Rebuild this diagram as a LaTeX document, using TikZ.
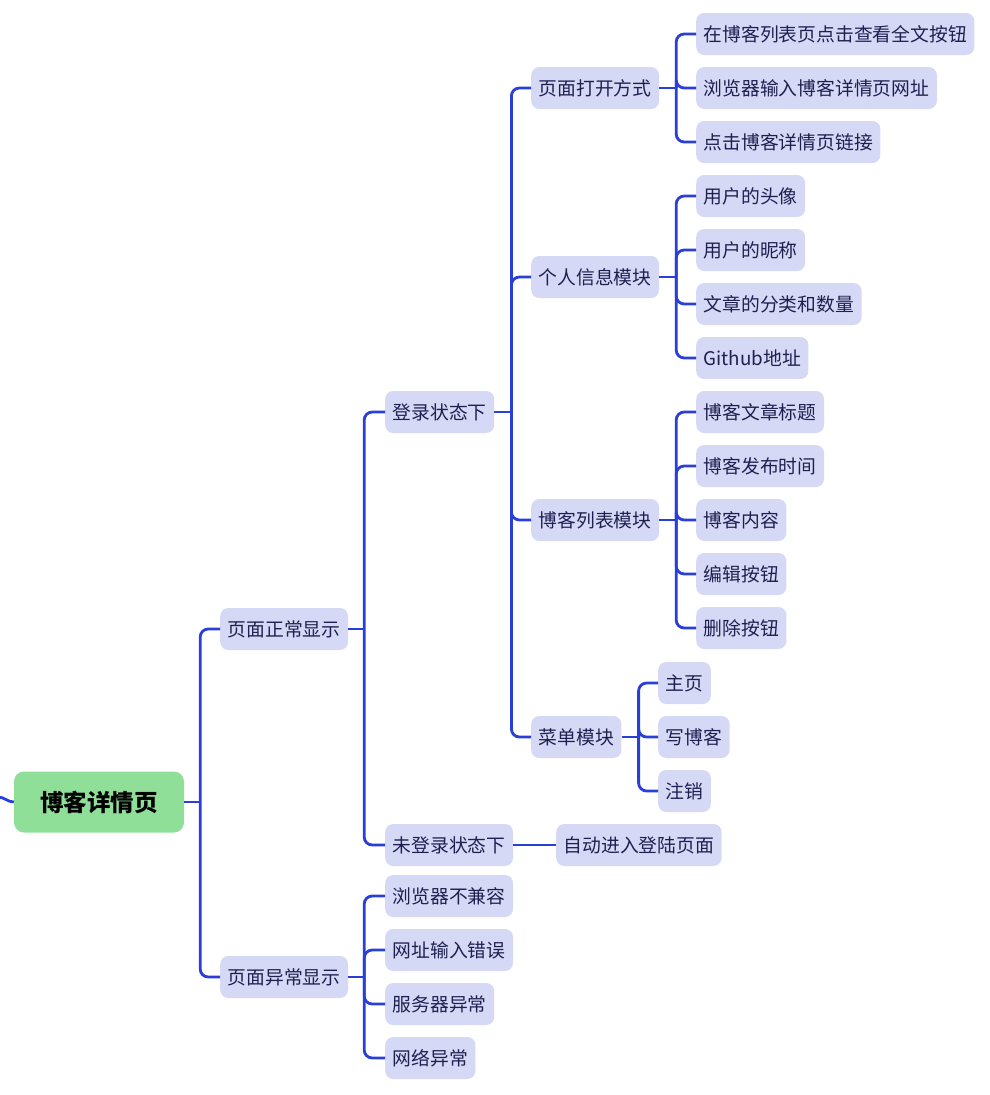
\documentclass[tikz,border=0pt]{standalone}
\usepackage{fontspec}
\setmainfont{Noto Sans CJK SC}
\usetikzlibrary{calc}
\definecolor{linec}{HTML}{2A3FD8}
\definecolor{boxc}{HTML}{D5D9F6}
\definecolor{txtc}{HTML}{1E2150}
\definecolor{rootc}{HTML}{90DF98}
\tikzset{
  topic/.style={anchor=west, fill=boxc, rounded corners=8pt, minimum height=42pt, inner xsep=7.5pt, inner ysep=0pt, text=txtc, font=\fontsize{18.8pt}{22pt}\selectfont},
  roottopic/.style={fill=rootc, rounded corners=10pt, minimum height=61pt, minimum width=170pt, inner xsep=0pt, text=black, font=\fontsize{23.5pt}{27pt}\selectfont\bfseries},
  conn/.style={draw=linec, line width=2.8pt, rounded corners=8pt},
}
\newcommand{\branch}[3]{%
  \draw[conn] (#1.east) -- ++(#2,0) coordinate (#1-j);
  \foreach \c in {#3} { \draw[conn] (#1-j) |- (\c.west); }
}
\begin{document}
\begin{tikzpicture}[x=1pt,y=-1pt]
\useasboundingbox (0,0) rectangle (990,1095);
\node[roottopic] (root) at (99,802) {博客详情页};
\node[topic] (n1) at (220,629) {页面正常显示};
\node[topic] (n2) at (220,977) {页面异常显示};
\node[topic] (d1) at (385,412) {登录状态下};
\node[topic] (d2) at (385,845) {未登录状态下};
\node[topic] (e1) at (385,896) {浏览器不兼容};
\node[topic] (e2) at (385,950) {网址输入错误};
\node[topic] (e3) at (385,1004) {服务器异常};
\node[topic] (e4) at (385,1058) {网络异常};
\node[topic] (m1) at (531,88) {页面打开方式};
\node[topic] (m2) at (531,277) {个人信息模块};
\node[topic] (m3) at (531,520) {博客列表模块};
\node[topic] (m4) at (531,737) {菜单模块};
\node[topic] (u1) at (556,845) {自动进入登陆页面};
\node[topic] (a1) at (696,34) {在博客列表页点击查看全文按钮};
\node[topic] (a2) at (696,88) {浏览器输入博客详情页网址};
\node[topic] (a3) at (696,142) {点击博客详情页链接};
\node[topic] (b1) at (696,196) {用户的头像};
\node[topic] (b2) at (696,250) {用户的昵称};
\node[topic] (b3) at (696,304) {文章的分类和数量};
\node[topic] (b4) at (696,358) {Github地址};
\node[topic] (c1) at (696,412) {博客文章标题};
\node[topic] (c2) at (696,466) {博客发布时间};
\node[topic] (c3) at (696,520) {博客内容};
\node[topic] (c4) at (696,574) {编辑按钮};
\node[topic] (c5) at (696,628) {删除按钮};
\node[topic] (k1) at (658,683) {主页};
\node[topic] (k2) at (658,737) {写博客};
\node[topic] (k3) at (658,791) {注销};
\coordinate (stub) at (-2,797);
\draw[conn] (stub) to[out=0,in=180] (root.west);
\branch{root}{16}{n1,n2}
\branch{n1}{16}{d1,d2}
\branch{n2}{16}{e1,e2,e3,e4}
\branch{d1}{17}{m1,m2,m3,m4}
\draw[conn] (d2.east) -- (u1.west);
\branch{m1}{17}{a1,a2,a3}
\branch{m2}{17}{b1,b2,b3,b4}
\branch{m3}{17}{c1,c2,c3,c4,c5}
\branch{m4}{17}{k1,k2,k3}
\end{tikzpicture}
\end{document}
